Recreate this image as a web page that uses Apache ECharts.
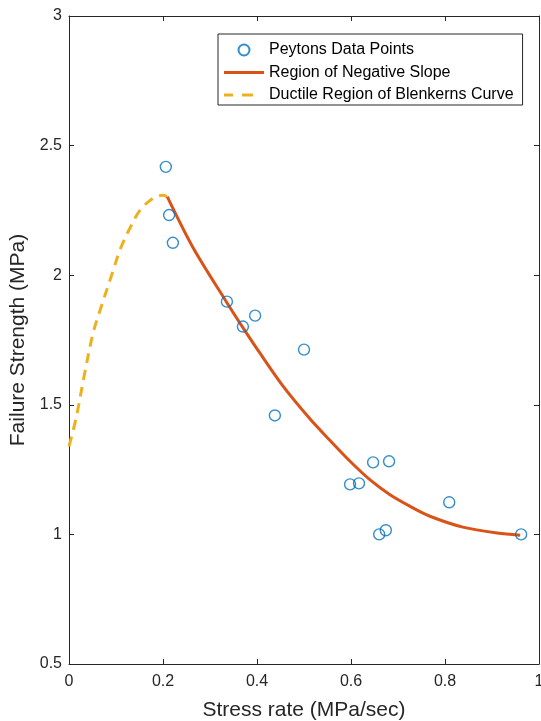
<!DOCTYPE html>
<html>
<head>
<meta charset="utf-8">
<script src="https://cdn.jsdelivr.net/npm/echarts@6/dist/echarts.min.js"></script>
<style>
html,body{margin:0;padding:0;background:#fff;}
#chart{width:541px;height:721px;}
</style>
</head>
<body>
<div id="chart"></div>
<script>
// ---- data ----
const seriesNames = ['Peytons Data Points', 'Region of Negative Slope', 'Ductile Region of Blenkerns Curve'];

const pointX = [0.206, 0.213, 0.221, 0.336, 0.370, 0.396, 0.500, 0.438, 0.598, 0.617, 0.647, 0.681, 0.809, 0.660, 0.674, 0.962];
const pointY = [2.418, 2.232, 2.125, 1.898, 1.802, 1.844, 1.713, 1.459, 1.193, 1.197, 1.278, 1.282, 1.124, 1.000, 1.016, 1.000];

const slopeX = [0.209, 0.264, 0.336, 0.370, 0.406, 0.455, 0.513, 0.555, 0.598, 0.640, 0.683, 0.726, 0.768, 0.838, 0.911, 0.960];
const slopeY = [2.303, 2.106, 1.894, 1.798, 1.700, 1.573, 1.445, 1.363, 1.282, 1.211, 1.153, 1.108, 1.070, 1.028, 1.005, 0.997];

const ductileX = [0.000, 0.015, 0.032, 0.051, 0.066, 0.094, 0.109, 0.130, 0.151, 0.179, 0.200, 0.208];
const ductileY = [1.340, 1.448, 1.609, 1.775, 1.864, 2.018, 2.100, 2.183, 2.250, 2.297, 2.308, 2.303];

const xTickLabels = ['0', '0.2', '0.4', '0.6', '0.8', '1'];
const yTickLabels = ['0.5', '1', '1.5', '2', '2.5', '3'];

const xAxisName = 'Stress rate (MPa/sec)';
const yAxisName = 'Failure Strength (MPa)';

// ---- build ----
const zip = (a, b) => a.map((v, i) => [v, b[i]]);
const axisColor = '#262626';
const font = 'Liberation Sans, Arial, Helvetica, sans-serif';
const blue = '#0072BD', orange = '#D95319', yellow = '#EDB120';

function xFmt(v) { const i = Math.round(v / 0.2); return xTickLabels[i] !== undefined ? xTickLabels[i] : String(v); }
function yFmt(v) { const i = Math.round((v - 0.5) / 0.5); return yTickLabels[i] !== undefined ? yTickLabels[i] : String(v); }

// legend icons (40 x 11 box, bar 3 px thick in the middle)
const solidIcon = 'path://M0,4H40V7H0Z M0,0L0,11 M40,0L40,11';
const dashIcon = 'path://M0,4H9V7H0Z M18,4H29V7H18Z M0,0L0,11 M40,0L40,11';

const baseX = {
  type: 'value', min: 0, max: 1, interval: 0.2,
  axisLine: { show: true, onZero: false, lineStyle: { color: axisColor, width: 1 } },
  axisTick: { show: true, inside: true, length: 5, lineStyle: { color: axisColor } },
  splitLine: { show: false }
};
const baseY = {
  type: 'value', min: 0.5, max: 3, interval: 0.5,
  axisLine: { show: true, onZero: false, lineStyle: { color: axisColor, width: 1 } },
  axisTick: { show: true, inside: true, length: 5, lineStyle: { color: axisColor } },
  splitLine: { show: false }
};

const chart = echarts.init(document.getElementById('chart'), null, { renderer: 'canvas' });
chart.setOption({
  animation: false,
  backgroundColor: '#ffffff',
  textStyle: { fontFamily: font },
  grid: { left: 69, right: 2, top: 16, bottom: 57, containLabel: false, outerBoundsMode: 'none' },
  xAxis: [
    Object.assign({}, baseX, {
      position: 'bottom',
      name: xAxisName, nameLocation: 'middle', nameGap: 36,
      nameTextStyle: { color: axisColor, fontSize: 21, fontFamily: font },
      axisLabel: { show: true, color: axisColor, fontSize: 16, fontFamily: font, margin: 10, formatter: xFmt }
    }),
    Object.assign({}, baseX, { position: 'top', axisLabel: { show: false } })
  ],
  yAxis: [
    Object.assign({}, baseY, {
      position: 'left',
      name: yAxisName, nameLocation: 'middle', nameGap: 32,
      nameTextStyle: { color: axisColor, fontSize: 21, fontFamily: font },
      axisLabel: { show: true, color: axisColor, fontSize: 16, fontFamily: font, margin: 7, formatter: yFmt }
    }),
    Object.assign({}, baseY, { position: 'right', axisLabel: { show: false } })
  ],
  legend: {
    orient: 'vertical',
    left: 218, top: 34,
    padding: [8, 9, 2, 6],
    itemWidth: 40, itemHeight: 11, itemGap: 6.5,
    borderColor: '#262626', borderWidth: 1,
    backgroundColor: '#ffffff',
    textStyle: { color: '#000000', fontSize: 16, lineHeight: 14, fontFamily: font },
    data: [
      { name: seriesNames[0], icon: 'circle' },
      { name: seriesNames[1], icon: solidIcon, itemStyle: { color: orange, borderWidth: 0 } },
      { name: seriesNames[2], icon: dashIcon, itemStyle: { color: yellow, borderWidth: 0 } }
    ]
  },
  series: [
    {
      name: seriesNames[2], type: 'line', xAxisIndex: 0, yAxisIndex: 0,
      data: zip(ductileX, ductileY), smooth: 0.35, symbol: 'none',
      lineStyle: { color: yellow, width: 3, type: [10, 7] },
      itemStyle: { color: yellow }, z: 2
    },
    {
      name: seriesNames[1], type: 'line', xAxisIndex: 0, yAxisIndex: 0,
      data: zip(slopeX, slopeY), smooth: 0.3, symbol: 'none',
      lineStyle: { color: orange, width: 3 },
      itemStyle: { color: orange }, z: 3
    },
    {
      name: seriesNames[0], type: 'scatter', xAxisIndex: 0, yAxisIndex: 0,
      data: zip(pointX, pointY), symbol: 'circle', symbolSize: 11,
      itemStyle: { color: 'rgba(0,0,0,0)', borderColor: blue, borderWidth: 1.4 },
      z: 4
    }
  ]
});
</script>
</body>
</html>
